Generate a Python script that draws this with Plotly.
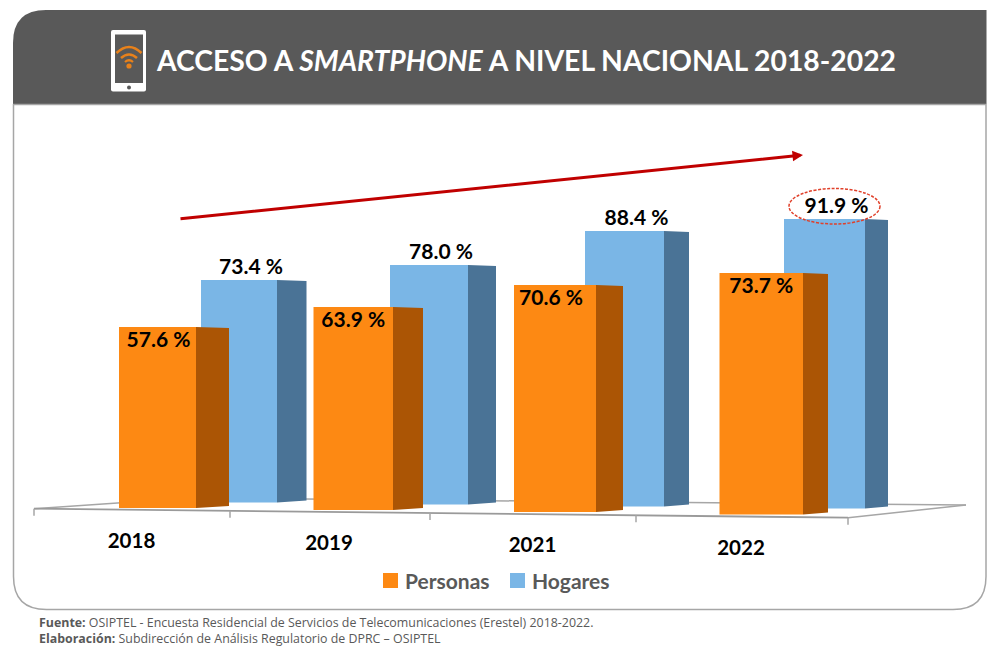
import plotly.graph_objects as go

# values
years = ['2018', '2019', '2021', '2022']
personas = [57.6, 63.9, 70.6, 73.7]
hogares = [73.4, 78.0, 88.4, 91.9]

W, H = 1000, 652

# fake 3d geometry, in pixels of the page
per_left = [119, 313.5, 514, 719.5]
per_right = [196, 393, 596, 803]
per_side = [229, 423, 623, 828]
per_floor = [508, 510, 512, 514.5]
per_scale = [3.142, 3.177, 3.215, 3.277]

hog_left = [201, 390, 585, 784]
hog_right = [277, 468, 664, 865]
hog_side = [306.5, 496, 689, 888]
hog_floor = [502.5, 504.5, 506.5, 508.5]
hog_scale = [3.031, 3.071, 3.117, 3.15]

year_x = [131.5, 329, 532.5, 741]
year_y = [540, 542, 544, 547]
tick_x = [34, 230, 430, 636, 848]

ORANGE, ORANGE_DARK = '#FD8913', '#AB5505'
BLUE, BLUE_DARK = '#7AB6E6', '#4A7396'
DARK = '#595959'
EDGE = '#A6A6A6'
FONT = 'Lato'

# value axis: 0 sits on the floor of the first bar
UNIT = 3.15
ZERO = 508


def vy(px):
    return (ZERO - px) / UNIT


def xp(px):
    return px / W


def yp(px):
    return 1 - px / H


def path(*parts):
    out = []
    for p in parts:
        if isinstance(p, str):
            out.append(p)
        else:
            out.append(f'{xp(p[0]):.5f},{yp(p[1]):.5f}')
    return ' '.join(out)


def line(x0, y0, x1, y1, color=EDGE, width=1.5):
    return dict(type='line', xref='paper', yref='paper', layer='below', x0=xp(x0), x1=xp(x1),
                y0=yp(y0), y1=yp(y1), line=dict(color=color, width=width))


def box(x0, y0, x1, y1, color):
    return dict(type='rect', xref='paper', yref='paper', layer='below', x0=xp(x0), x1=xp(x1),
                y0=yp(y0), y1=yp(y1), fillcolor=color, line=dict(width=0))


def dot(cx, cy, r, color):
    return dict(type='circle', xref='paper', yref='paper', layer='below', x0=xp(cx - r), x1=xp(cx + r),
                y0=yp(cy - r), y1=yp(cy + r), fillcolor=color, line=dict(width=0))


def arc(cx, cy, r, rise, width):
    return dict(type='path', xref='paper', yref='paper', layer='below',
                path=path('M', (cx - r, cy), 'Q', (cx, cy - rise), (cx + r, cy)),
                line=dict(color='#E8811A', width=width))


fig = go.Figure()

# front faces, blue first so the orange lands over it
fig.add_trace(go.Bar(
    x=[(a + b) / 2 for a, b in zip(hog_left, hog_right)],
    y=[v * s / UNIT for v, s in zip(hogares, hog_scale)],
    base=[vy(f) for f in hog_floor],
    width=[b - a for a, b in zip(hog_left, hog_right)],
    marker=dict(color=BLUE, line=dict(width=0)), showlegend=False, hoverinfo='skip'))
fig.add_trace(go.Bar(
    x=[(a + b) / 2 for a, b in zip(per_left, per_right)],
    y=[v * s / UNIT for v, s in zip(personas, per_scale)],
    base=[vy(f) for f in per_floor],
    width=[b - a for a, b in zip(per_left, per_right)],
    marker=dict(color=ORANGE, line=dict(width=0)), showlegend=False, hoverinfo='skip'))

# side faces
for vals, scale, floor, right, side, color in [
    (hogares, hog_scale, hog_floor, hog_right, hog_side, BLUE_DARK),
    (personas, per_scale, per_floor, per_right, per_side, ORANGE_DARK),
]:
    for v, s, f, r, e in zip(vals, scale, floor, right, side):
        top = f - v * s
        fig.add_trace(go.Scatter(
            x=[r, e, e, r, r],
            y=[vy(f), vy(f - 2), vy(top + 1), vy(top), vy(f)],
            mode='lines', fill='toself', fillcolor=color, line=dict(width=0),
            showlegend=False, hoverinfo='skip'))

# value labels
fig.add_trace(go.Scatter(
    x=[(a + b) / 2 + d for a, b, d in zip(per_left, per_right, [1, 0, -4, 0])],
    y=[vy(f - v * s + 15) for v, s, f in zip(personas, per_scale, per_floor)],
    text=[f'<b>{v:.1f} %</b>' for v in personas],
    mode='text', textposition='middle center', textfont=dict(family=FONT, size=21, color='#000000'),
    showlegend=False, hoverinfo='skip'))
fig.add_trace(go.Scatter(
    x=[(a + b) / 2 + 12 for a, b in zip(hog_left, hog_right)],
    y=[vy(f - v * s - 11.5) for v, s, f in zip(hogares, hog_scale, hog_floor)],
    text=[f'<b>{v:.1f} %</b>' for v in hogares],
    mode='text', textposition='middle center', textfont=dict(family=FONT, size=21, color='#000000'),
    showlegend=False, hoverinfo='skip'))

# year labels
fig.add_trace(go.Scatter(
    x=year_x, y=[vy(p + 2.5) for p in year_y],
    text=[f'<b>{y}</b>' for y in years],
    mode='text', textposition='middle center', textfont=dict(family=FONT, size=20.5, color='#000000'),
    showlegend=False, hoverinfo='skip'))

R = 33
shapes = [
    # panel outline
    dict(type='path', xref='paper', yref='paper', layer='below',
         path=path('M', (13.5, 104), 'L', (13.5, 609.5 - R), 'Q', (13.5, 609.5), (13.5 + R, 609.5),
                   'L', (986 - R, 609.5), 'Q', (986, 609.5), (986, 609.5 - R),
                   'L', (986, 104)),
         line=dict(color=EDGE, width=1.5), fillcolor='#FFFFFF'),
    # header band
    dict(type='path', xref='paper', yref='paper', layer='below',
         path=path('M', (13, 104), 'L', (13, 10 + R), 'Q', (13, 10), (13 + R, 10),
                   'L', (986.5, 10), 'L', (986.5, 104), 'Z'),
         line=dict(width=0), fillcolor=DARK),
    line(13, 104.5, 986, 104.5),
    # phone icon
    dict(type='path', xref='paper', yref='paper', layer='below',
         path=path('M', (111, 32), 'Q', (111, 30), (113, 30), 'L', (144, 30), 'Q', (146, 30), (146, 32),
                   'L', (146, 89.5), 'Q', (146, 91.5), (144, 91.5), 'L', (113, 91.5),
                   'Q', (111, 91.5), (111, 89.5), 'Z'),
         line=dict(width=0), fillcolor='#FFFFFF'),
    box(115, 34.5, 143, 83, DARK),
    dot(129, 87.5, 2, DARK),
    arc(129, 53, 12.5, 12, 2.5),
    arc(129, 58, 8, 7, 2.5),
    arc(129, 62, 4, 3.5, 2.2),
    dot(129, 66, 2.6, '#E8811A'),
    # floor of the 3d chart
    line(34, 508.7, 190, 498),
    line(190, 498, 966, 505),
    line(966, 505, 848, 517.7),
    line(34, 508.7, 848, 517.7, color='#9A9A9A', width=1.8),
    # dashed ring around the last value
    dict(type='circle', xref='paper', yref='paper', layer='above',
         x0=xp(789), x1=xp(880), y0=yp(188.5), y1=yp(224),
         line=dict(color='#E0402A', width=1.5, dash='3px,1.5px')),
]
for t in tick_x:
    # ticks follow the front floor edge
    ty = 508.7 + (t - 34) * (517.7 - 508.7) / (848 - 34)
    shapes.append(line(t, ty, t, ty + 7))

annotations = [
    dict(text='<b>ACCESO A <i>SMARTPHONE</i> A NIVEL NACIONAL 2018-2022</b>', xref='paper', yref='paper',
         x=xp(154), y=yp(60.5), xanchor='left', yanchor='middle', showarrow=False,
         font=dict(family=FONT, size=28.3, color='#FFFFFF')),
    # trend arrow
    dict(text='', xref='paper', yref='paper', axref='pixel', ayref='pixel',
         x=xp(803), y=yp(155), ax=-624, ay=64, showarrow=True, arrowhead=2, arrowsize=0.7,
         arrowwidth=3, arrowcolor='#C00000'),
    dict(text='<b>Fuente:</b> OSIPTEL - Encuesta Residencial de Servicios de Telecomunicaciones (Erestel) 2018-2022.',
         xref='paper', yref='paper', x=xp(37), y=yp(622.8), xanchor='left', yanchor='middle',
         showarrow=False, font=dict(family='Open Sans', size=12.4, color=DARK)),
    dict(text='<b>Elaboración:</b> Subdirección de Análisis Regulatorio de DPRC – OSIPTEL',
         xref='paper', yref='paper', x=xp(37), y=yp(638.8), xanchor='left', yanchor='middle',
         showarrow=False, font=dict(family='Open Sans', size=12.4, color=DARK)),
]

# legend, placed by hand to keep the tight swatch spacing
for name, color, sx in [('Personas', ORANGE, 383), ('Hogares', BLUE, 510)]:
    shapes.append(box(sx, 573, sx + 15, 588, color))
    annotations.append(dict(text=f'<b>{name}</b>', xref='paper', yref='paper', x=xp(sx + 20), y=yp(580.5),
                            xanchor='left', yanchor='middle', showarrow=False,
                            font=dict(family=FONT, size=21, color=DARK)))

fig.update_layout(
    width=W, height=H, margin=dict(l=0, r=0, t=0, b=0),
    paper_bgcolor='#FFFFFF', plot_bgcolor='rgba(0,0,0,0)',
    barmode='overlay', shapes=shapes, annotations=annotations, showlegend=False,
    xaxis=dict(range=[0, W], visible=False, fixedrange=True),
    yaxis=dict(range=[vy(H), vy(0)], visible=False, fixedrange=True),
)

fig.write_html('out.html', config=dict(displayModeBar=False),
               post_script="document.body.style.margin='0';")
